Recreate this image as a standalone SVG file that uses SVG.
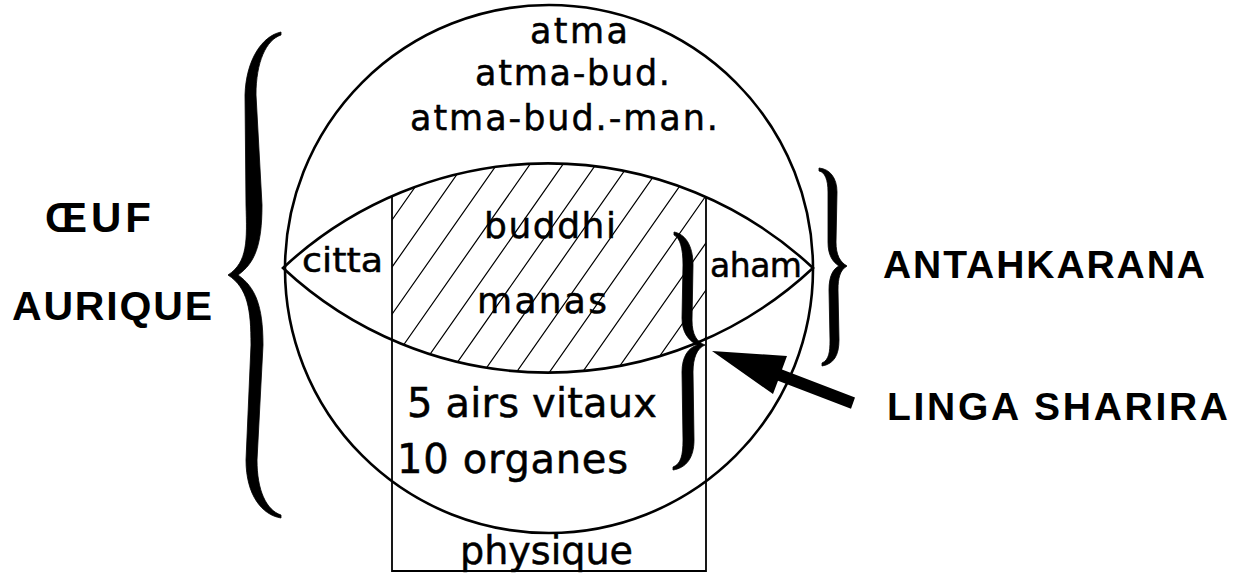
<svg xmlns="http://www.w3.org/2000/svg" width="1239" height="573" viewBox="0 0 1239 573">
  <style>
    .ink { fill: none; stroke: #000; stroke-width: 2.6; }
    .thin { fill: none; stroke: #000; stroke-width: 1.8; }
    .hatch { fill: none; stroke: #000; stroke-width: 1.2; }
    .brace { fill: #000; stroke: #000; stroke-width: 0.8; stroke-linejoin: round; }
    .t { font-family: "DejaVu Sans", "Liberation Sans", sans-serif; fill: #000; stroke: #000; stroke-width: 0.5; }
    .lbl { font-family: "Liberation Sans", Arial, sans-serif; font-weight: bold; fill: #000; }
  </style>
  <defs>
    <!-- central band of the lens, between the two verticals -->
    <clipPath id="band">
      <path d="M 392,196.1 A 388 388 0 0 1 706,197 L 706,339 A 388 388 0 0 1 392,339.9 Z"/>
    </clipPath>
  </defs>

  <rect width="1239" height="573" fill="#fff"/>

  <!-- auric egg -->
  <g id="oeuf">
    <circle class="ink" cx="549" cy="269" r="264"/>
    <text class="t" x="530" y="43" font-size="35" textLength="98" lengthAdjust="spacing">atma</text>
    <text class="t" x="475" y="85" font-size="35" textLength="195" lengthAdjust="spacing">atma-bud.</text>
    <text class="t" x="410" y="130" font-size="35" textLength="308" lengthAdjust="spacing">atma-bud.-man.</text>
  </g>

  <!-- antahkarana lens -->
  <g id="antahkarana">
    <path class="ink" d="M 283,268 A 388 388 0 0 1 813,268 A 388 388 0 0 1 283,268 Z"/>
    <g clip-path="url(#band)">
      <path class="hatch" d="M 365,400 l 168,-240 M 398,400 l 168,-240 M 431,400 l 168,-240 M 464,400 l 168,-240 M 497,400 l 168,-240 M 530,400 l 168,-240 M 563,400 l 168,-240 M 596,400 l 168,-240 M 629,400 l 168,-240 M 662,400 l 168,-240 M 695,400 l 168,-240 M 332,400 l 168,-240 M 299,400 l 168,-240 M 266,400 l 168,-240 M 233,400 l 168,-240"/>
    </g>
    <text class="t" x="302" y="272" font-size="33" textLength="81" lengthAdjust="spacingAndGlyphs">citta</text>
    <text class="t" x="710" y="277" font-size="33" textLength="92" lengthAdjust="spacing">aham</text>
    <text class="t" x="484" y="238" font-size="36" textLength="132" lengthAdjust="spacing">buddhi</text>
    <text class="t" x="477" y="313" font-size="36" textLength="130" lengthAdjust="spacing">manas</text>
  </g>

  <!-- vital column down to the physical body -->
  <g id="linga">
    <path class="thin" d="M 392,196 L 392,571 L 706,571 L 706,197"/>
    <text class="t" x="407" y="417" font-size="40" textLength="250" lengthAdjust="spacing">5 airs vitaux</text>
    <text class="t" x="397" y="473" font-size="40" textLength="231" lengthAdjust="spacing">10 organes</text>
    <text class="t" x="460" y="564" font-size="39" textLength="173" lengthAdjust="spacingAndGlyphs">physique</text>
  </g>

  <!-- braces -->
  <g id="brace-oeuf">
    <path class="brace" d="M 281,32 C 262,36 246,60 245,95 L 246,205 C 247,240 248,262 228,275 C 248,288 251,310 251,345 L 246,460 C 246,495 262,515 281,518 L 281,515 C 266,510 257,490 257,460 L 263,345 C 263,305 255,287 238,275 C 255,263 262,245 262,205 L 256,95 C 256,62 266,40 281,35 Z"/>
  </g>
  <g id="brace-antahkarana">
    <path class="brace" d="M 819,168 C 830,169 837,178 837,192 L 836,242 C 836,255 840,262 847,266 C 840,270 838,278 838,290 L 839,340 C 839,355 834,364 822,366 L 822,363 C 829,360 830,352 830,340 L 829,290 C 829,276 833,269 839,266 C 833,262 828,256 828,242 L 828,192 C 828,180 825,172 819,171 Z"/>
  </g>
  <g id="brace-linga">
    <path class="brace" d="M 674,232 C 685,234 693,245 693,265 L 692,320 C 692,335 697,342 705,345 C 697,348 693,358 693,372 L 694,440 C 694,458 686,468 673,470 L 673,467 C 681,464 683,455 683,440 L 682,372 C 682,357 688,348 697,345 C 688,340 682,332 682,318 L 683,265 C 683,248 680,238 674,235 Z"/>
  </g>

  <!-- side labels -->
  <g id="label-oeuf">
    <text class="lbl" x="45" y="232" font-size="42" letter-spacing="4">ŒUF</text>
    <text class="lbl" x="12" y="320" font-size="41" textLength="200" lengthAdjust="spacing">AURIQUE</text>
  </g>
  <g id="label-antahkarana">
    <text class="lbl" x="883" y="278" font-size="39" textLength="322" lengthAdjust="spacing">ANTAHKARANA</text>
  </g>
  <g id="label-linga">
    <text class="lbl" x="887" y="420" font-size="39" textLength="341" lengthAdjust="spacing">LINGA SHARIRA</text>
  </g>

  <!-- connectors -->
  <g id="connectors">
    <polygon fill="#000" points="712,351 787,356 782,369.4 855,397.4 851,408.7 778,380.7 773,394"/>
  </g>
</svg>
